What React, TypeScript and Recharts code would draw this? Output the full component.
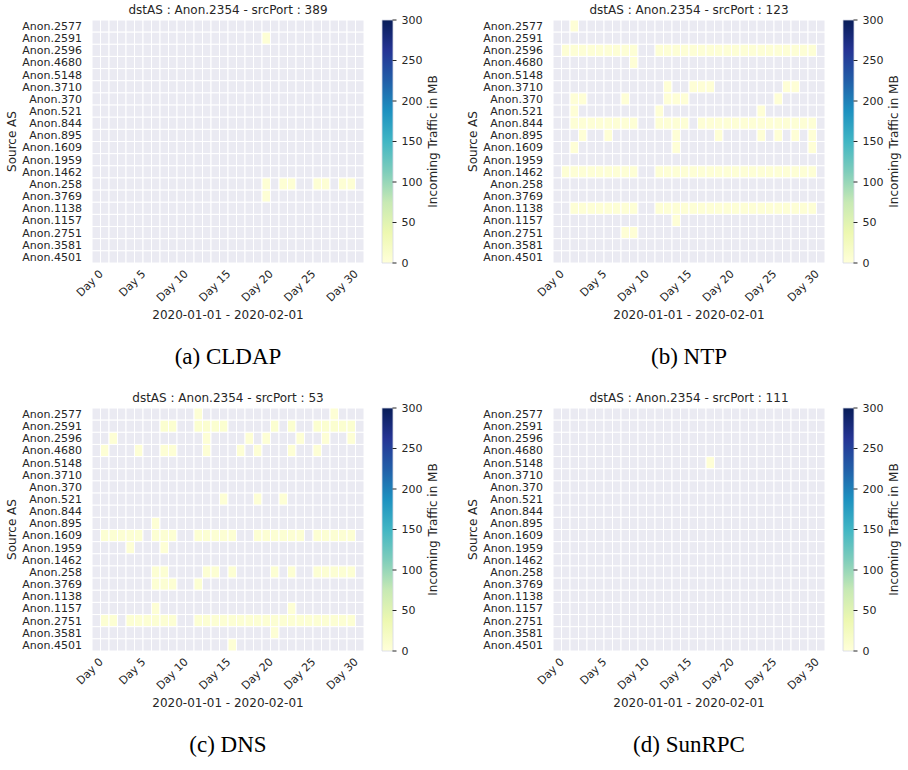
import { ScatterChart, Scatter, XAxis, YAxis, BarChart, Bar } from 'recharts';

const FONT = '"DejaVu Sans", Verdana, sans-serif';
const SERIF = '"Liberation Serif", "Times New Roman", serif';
const INK = '#262626';
const EMPTY = '#eaeaf2';

const SOURCE_AS = [
  'Anon.2577', 'Anon.2591', 'Anon.2596', 'Anon.4680', 'Anon.5148',
  'Anon.3710', 'Anon.370', 'Anon.521', 'Anon.844', 'Anon.895',
  'Anon.1609', 'Anon.1959', 'Anon.1462', 'Anon.258', 'Anon.3769',
  'Anon.1138', 'Anon.1157', 'Anon.2751', 'Anon.3581', 'Anon.4501',
];
const DAYS = [0, 1, 2, 3, 4, 5, 6, 7, 8, 9, 10, 11, 12, 13, 14, 15, 16, 17, 18, 19, 20, 21, 22, 23, 24, 25, 26, 27, 28, 29, 30, 31];
const DAY_TICKS = [0, 5, 10, 15, 20, 25, 30];
const CBAR_TICKS = [0, 50, 100, 150, 200, 250, 300];
const CBAR_MAX = 300;
// YlGnBu, low -> high
const YLGNBU = ['#ffffd9', '#edf8b1', '#c7e9b4', '#7fcdbb', '#41b6c4', '#1d91c0', '#225ea8', '#253494', '#081d58'];

// [source AS, days with traffic, MB] - everything else is empty
const CLDAP_TRAFFIC: [string, number[], number][] = [
  ['Anon.2591', [20], 4],
  ['Anon.258', [20, 22, 23, 26, 27, 29, 30], 5],
  ['Anon.3769', [20], 4],
];

const NTP_TRAFFIC: [string, number[], number][] = [
  ['Anon.2577', [2], 3],
  ['Anon.2596', [1, 2, 3, 4, 5, 6, 7, 8, 9, 12, 13, 14, 15, 16, 17, 18, 19, 20, 21, 22, 23, 24, 25, 26, 27, 28, 29, 30], 4],
  ['Anon.4680', [9], 3],
  ['Anon.3710', [13, 16, 17, 18, 27, 28], 3],
  ['Anon.370', [2, 3, 8, 13, 14, 15, 26], 3],
  ['Anon.521', [2, 12, 24], 3],
  ['Anon.844', [2, 3, 4, 5, 6, 7, 8, 9, 12, 13, 14, 15, 17, 18, 19, 20, 21, 22, 23, 24, 25, 26, 27, 28, 29, 30], 4],
  ['Anon.895', [3, 6, 14, 19, 24, 26, 28, 30], 3],
  ['Anon.1609', [2, 14, 30], 3],
  ['Anon.1462', [1, 2, 3, 4, 5, 6, 7, 8, 9, 12, 13, 14, 15, 16, 17, 18, 19, 20, 21, 22, 23, 24, 25, 26, 27, 28, 29, 30], 4],
  ['Anon.1138', [2, 3, 4, 5, 6, 7, 8, 9, 12, 13, 14, 15, 16, 17, 18, 19, 20, 21, 22, 23, 24, 25, 26, 27, 28, 29, 30], 4],
  ['Anon.1157', [14], 3],
  ['Anon.2751', [8, 9], 3],
];

const DNS_TRAFFIC: [string, number[], number][] = [
  ['Anon.2577', [12, 28], 4],
  ['Anon.2591', [8, 9, 12, 13, 14, 15, 21, 23, 26, 27, 28, 29, 30], 8],
  ['Anon.2596', [2, 13, 18, 20, 24, 27, 30], 4],
  ['Anon.4680', [1, 5, 8, 9, 13, 17, 19, 23, 26], 4],
  ['Anon.521', [15, 19, 22], 4],
  ['Anon.895', [7], 4],
  ['Anon.1609', [1, 2, 3, 4, 5, 7, 8, 9, 12, 13, 14, 15, 16, 19, 20, 21, 22, 23, 24, 26, 27, 28, 29, 30], 6],
  ['Anon.1959', [4, 8], 4],
  ['Anon.258', [7, 8, 13, 14, 16, 21, 23, 26, 27, 28, 29, 30], 6],
  ['Anon.3769', [7, 8, 9, 12], 6],
  ['Anon.1157', [7, 23], 4],
  ['Anon.2751', [1, 2, 4, 5, 6, 7, 8, 9, 12, 13, 14, 15, 16, 17, 18, 19, 20, 21, 22, 23, 24, 25, 26, 27, 28, 29, 30], 6],
  ['Anon.3581', [21], 4],
  ['Anon.4501', [16], 4],
];

const SUNRPC_TRAFFIC: [string, number[], number][] = [
  ['Anon.5148', [18], 3],
];

// layout of one panel
const PLOT_LEFT = 92;
const PLOT_TOP = 20;
const PLOT_W = 272;
const PLOT_H = 243;
const CELL_W = PLOT_W / DAYS.length;
const CELL_H = PLOT_H / SOURCE_AS.length;
const ROW_TICKS = SOURCE_AS.map((_, i) => i);

function hexToRgb(h: string) {
  const n = parseInt(h.slice(1), 16);
  return [(n >> 16) & 255, (n >> 8) & 255, n & 255];
}

function ylgnbu(v: number) {
  const t = Math.min(1, Math.max(0, v / CBAR_MAX)) * (YLGNBU.length - 1);
  const i = Math.min(Math.floor(t), YLGNBU.length - 2);
  const f = t - i;
  const a = hexToRgb(YLGNBU[i]);
  const b = hexToRgb(YLGNBU[i + 1]);
  const c = a.map((x, k) => Math.round(x + (b[k] - x) * f));
  return `rgb(${c[0]},${c[1]},${c[2]})`;
}

function buildCells(traffic: [string, number[], number][]) {
  const lookup = new Map<string, number>();
  traffic.forEach(([as, days, mb]) => days.forEach(d => lookup.set(`${as}|${d}`, mb)));
  const cells: { day: number; row: number; mb: number | null }[] = [];
  SOURCE_AS.forEach((as, row) => {
    DAYS.forEach(day => {
      const mb = lookup.get(`${as}|${day}`);
      cells.push({ day, row, mb: mb === undefined ? null : mb });
    });
  });
  return cells;
}

function HeatCell(props: any) {
  const { cx, cy, payload } = props;
  const fill = payload.mb == null ? EMPTY : ylgnbu(payload.mb);
  return (
    <rect x={cx - CELL_W / 2} y={cy - CELL_H / 2} width={CELL_W} height={CELL_H}
      fill={fill} stroke="#ffffff" strokeWidth={1} />
  );
}

function DayTick(props: any) {
  const { x, y, payload } = props;
  const ax = x + 5;
  const ay = y + 9;
  return (
    <text x={ax} y={ay} transform={`rotate(-45 ${ax} ${ay})`} textAnchor="end"
      dominantBaseline="central" fontSize={11} fontFamily={FONT} fill={INK}>
      Day {payload.value}
    </text>
  );
}

function Panel({ left, top, port, caption, traffic, id }: {
  left: number; top: number; port: number; caption: string;
  traffic: [string, number[], number][]; id: string;
}) {
  const cells = buildCells(traffic);
  return (
    <div style={{ position: 'absolute', left, top, width: 461, height: 388 }}>
      <div style={{
        position: 'absolute', left: PLOT_LEFT, top: 3, width: PLOT_W, textAlign: 'center',
        fontFamily: FONT, fontSize: 12, lineHeight: '14px', color: INK, whiteSpace: 'nowrap',
      }}>
        dstAS : Anon.2354 - srcPort : {port}
      </div>

      <div style={{ position: 'absolute', left: 0, top: 0 }}>
        <ScatterChart width={372} height={330} margin={{ top: PLOT_TOP, right: 8, bottom: 0, left: 0 }}>
          <XAxis type="number" dataKey="day" domain={[-0.5, 31.5]} ticks={DAY_TICKS} interval={0}
            height={67} axisLine={false} tickLine={false} tickSize={0} tickMargin={0}
            tick={<DayTick />}
            label={{
              content: () => (
                <text x={PLOT_LEFT + PLOT_W / 2} y={315} textAnchor="middle" dominantBaseline="central"
                  fontSize={12} fontFamily={FONT} fill={INK}>2020-01-01 - 2020-02-01</text>
              ),
            }} />
          <YAxis type="number" dataKey="row" domain={[-0.5, 19.5]} reversed ticks={ROW_TICKS} interval={0}
            width={PLOT_LEFT} axisLine={false} tickLine={false} tickSize={0} tickMargin={10}
            tickFormatter={(i: number) => SOURCE_AS[i]}
            tick={{ fontSize: 11, fill: INK, fontFamily: FONT }}
            label={{
              content: () => (
                <text x={12} y={PLOT_TOP + PLOT_H / 2} transform={`rotate(-90 12 ${PLOT_TOP + PLOT_H / 2})`}
                  textAnchor="middle" dominantBaseline="central" fontSize={12} fontFamily={FONT} fill={INK}>
                  Source AS
                </text>
              ),
            }} />
          <Scatter data={cells} shape={(p: any) => <HeatCell {...p} />} isAnimationActive={false} />
        </ScatterChart>
      </div>

      <div style={{ position: 'absolute', left: 370, top: 0 }}>
        <BarChart width={90} height={330} data={[{ k: 'cbar', v: CBAR_MAX }]}
          margin={{ top: PLOT_TOP, right: 0, bottom: 67, left: 12 }} barCategoryGap={0} barGap={0}>
          <defs>
            <linearGradient id={`ylgnbu-${id}`} x1="0" y1="0" x2="0" y2="1">
              {YLGNBU.slice().reverse().map((c, i) => (
                <stop key={c} offset={`${(i / (YLGNBU.length - 1)) * 100}%`} stopColor={c} />
              ))}
            </linearGradient>
          </defs>
          <XAxis dataKey="k" hide />
          <YAxis orientation="right" type="number" domain={[0, CBAR_MAX]} ticks={CBAR_TICKS} interval={0}
            width={67.5} axisLine={false} tickLine={{ stroke: INK, strokeWidth: 1 }} tickSize={4} tickMargin={5}
            tick={{ fontSize: 11, fill: INK, fontFamily: FONT }}
            label={{
              content: () => (
                <text x={63} y={PLOT_TOP + PLOT_H / 2} transform={`rotate(-90 63 ${PLOT_TOP + PLOT_H / 2})`}
                  textAnchor="middle" dominantBaseline="central" fontSize={12} fontFamily={FONT} fill={INK}>
                  Incoming Traffic in MB
                </text>
              ),
            }} />
          <Bar dataKey="v" fill={`url(#ylgnbu-${id})`} stroke="#d5d8e5" strokeWidth={0.8} isAnimationActive={false} />
        </BarChart>
      </div>

      <div style={{
        position: 'absolute', left: 0, top: 343, width: 456, textAlign: 'center',
        fontFamily: SERIF, fontSize: 23, lineHeight: '28px', color: '#000',
      }}>
        {caption}
      </div>
    </div>
  );
}

export default function App() {
  return (
    <div style={{ position: 'absolute', left: 0, top: 0, width: 908, height: 770, background: '#fff', overflow: 'hidden' }}>
      <Panel left={0} top={0} port={389} caption="(a) CLDAP" traffic={CLDAP_TRAFFIC} id="a" />
      <Panel left={461} top={0} port={123} caption="(b) NTP" traffic={NTP_TRAFFIC} id="b" />
      <Panel left={0} top={388} port={53} caption="(c) DNS" traffic={DNS_TRAFFIC} id="c" />
      <Panel left={461} top={388} port={111} caption="(d) SunRPC" traffic={SUNRPC_TRAFFIC} id="d" />
    </div>
  );
}
